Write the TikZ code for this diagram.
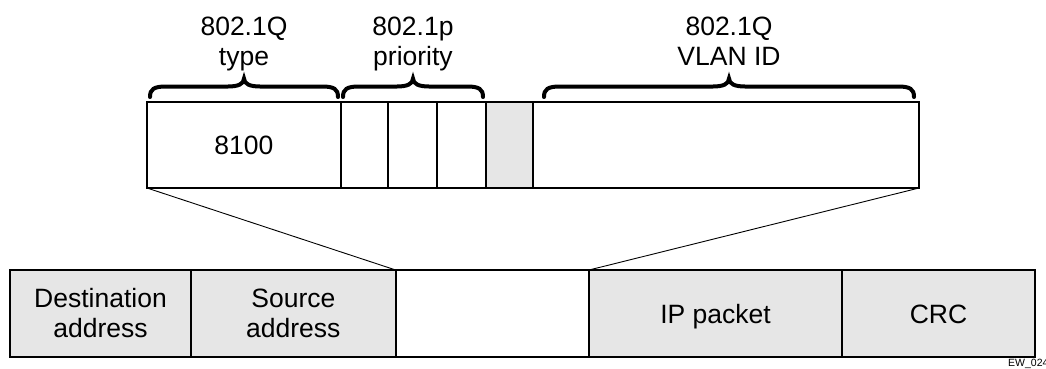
\documentclass[tikz,border=0pt]{standalone}
\usepackage{fontspec}
\setmainfont{Liberation Sans}
\definecolor{cellgray}{HTML}{E6E6E6}
\begin{document}
\begin{tikzpicture}[x=1pt,y=-1pt,
  cell/.style={draw=black,line width=2pt,anchor=north west,inner sep=0pt,outer sep=0pt,
    align=center,font=\fontsize{26.5}{30}\selectfont},
  oneline/.style={text height=19pt,text depth=0pt},
  graycell/.style={cell,fill=cellgray},
  whitecell/.style={cell,fill=white},
  lbl/.style={anchor=base,inner sep=0pt,font=\fontsize{26.5}{30}\selectfont},
  bracepath/.style={line width=4pt,line cap=round},
  thinline/.style={line width=0.9pt}]
\useasboundingbox (0,0) rectangle (1046,368);
% top row
\node[whitecell,oneline,minimum width=193.7pt,minimum height=86.3pt] (type) at (147,101.7) {8100};
\node[whitecell,minimum width=47.3pt,minimum height=86.3pt] (p1) at (340.7,101.7) {};
\node[whitecell,minimum width=48.7pt,minimum height=86.3pt] (p2) at (388,101.7) {};
\node[whitecell,minimum width=49pt,minimum height=86.3pt] (p3) at (436.7,101.7) {};
\node[graycell,minimum width=47.3pt,minimum height=86.3pt] (cfi) at (485.7,101.7) {};
\node[whitecell,minimum width=386pt,minimum height=86.3pt] (vlan) at (533,101.7) {};
% bottom row
\node[graycell,minimum width=181pt,minimum height=87pt] (dst) at (10,270) {Destination\\address};
\node[graycell,minimum width=204.7pt,minimum height=87pt] (src) at (191,270) {Source\\address};
\node[whitecell,minimum width=193.3pt,minimum height=87pt] (tag) at (395.7,270) {};
\node[graycell,oneline,minimum width=253pt,minimum height=87pt] (ip) at (589,270) {IP packet};
\node[graycell,oneline,minimum width=193pt,minimum height=87pt] (crc) at (842,270) {CRC};
% connectors
\draw[thinline] (type.south west) -- (tag.north west);
\draw[thinline] (vlan.south east) -- (tag.north east);
% labels
\node[lbl] (l1a) at (244,35) {802.1Q};
\node[lbl] (l1b) at (244,65) {type};
\node[lbl] (l2a) at (413,35) {802.1p};
\node[lbl] (l2b) at (413,65) {priority};
\node[lbl] (l3a) at (729,35) {802.1Q};
\node[lbl] (l3b) at (729,65) {VLAN ID};
% braces
\foreach \a/\m/\b in {150/244/338, 343/413/483, 544/729/914}{
  \draw[bracepath] (\a,97) .. controls (\a,89) and (\a+4,86.5) .. (\a+16,86.5)
    -- (\m-16,86.5) .. controls (\m-6,86.5) and (\m,84) .. (\m,78.5)
    .. controls (\m,84) and (\m+6,86.5) .. (\m+16,86.5)
    -- (\b-16,86.5) .. controls (\b-4,86.5) and (\b,89) .. (\b,97);
}
\node[anchor=base west,inner sep=0pt,font=\fontsize{10.5}{12}\selectfont] (code) at (1008,366.5) {EW\_024};
\end{tikzpicture}
\end{document}
